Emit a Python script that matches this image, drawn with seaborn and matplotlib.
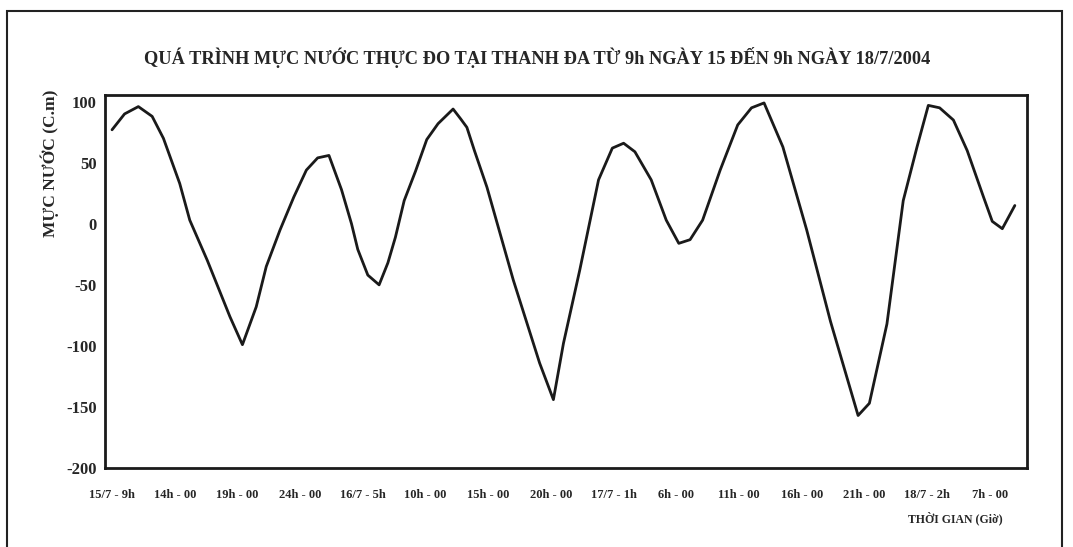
import matplotlib
matplotlib.use("Agg")
import matplotlib.pyplot as plt
import seaborn as sns
import pandas as pd
from matplotlib.patches import Rectangle

# Time in hours since 9h on 15/7/2004, water level in cm
hours = [0, 1.0, 2.1, 3.2, 4.1, 5.4, 6.2, 7.6, 9.4, 10.4, 11.5, 12.3, 13.4, 14.5,
         15.5, 16.4, 17.3, 18.3, 19.1, 19.6, 20.4, 21.3, 22.0, 22.6, 23.3, 24.2,
         25.1, 26.0, 27.2, 27.8, 28.3, 28.9, 29.9, 32.0, 34.1, 35.2, 36.0, 37.3,
         38.8, 39.9, 40.8, 41.7, 43.0, 44.2, 45.2, 46.1, 47.1, 48.5, 49.9, 51.0,
         52.0, 53.5, 55.4, 57.3, 59.5, 60.4, 61.8, 63.1, 64.2, 65.1, 66.0, 67.1,
         68.2, 69.5, 70.2, 71.0, 72.0]
levels = [77, 90, 96, 88, 70, 33, 3, -30, -76, -99, -68, -35, -5, 22,
          44, 54, 56, 28, 0, -21, -42, -50, -32, -11, 19, 43,
          69, 82, 94, 86, 79, 60, 30, -46, -114, -144, -98, -38,
          36, 62, 66, 59, 36, 3, -16, -13, 3, 44, 81, 95,
          99, 63, -5, -80, -157, -147, -82, 19, 63, 97, 95, 85,
          60, 22, 2, -4, 15]

tick_hours = [0, 5, 10, 15, 20, 25, 30, 35, 40, 45, 50, 55, 60, 65, 70]
tick_labels = ["15/7 - 9h", "14h - 00", "19h - 00", "24h - 00", "16/7 - 5h",
               "10h - 00", "15h - 00", "20h - 00", "17/7 - 1h", "6h - 00",
               "11h - 00", "16h - 00", "21h - 00", "18/7 - 2h", "7h - 00"]
y_ticks = [100, 50, 0, -50, -100, -150, -200]

title = "QUÁ TRÌNH MỰC NƯỚC THỰC ĐO TẠI THANH ĐA TỪ 9h NGÀY 15 ĐẾN 9h NGÀY 18/7/2004"
ylabel = "MỰC NƯỚC (C.m)"
xlabel = "THỜI GIAN (Giờ)"

sns.set_style("white")
plt.rcParams['font.family'] = ['Liberation Serif', 'DejaVu Serif']
plt.rcParams['font.weight'] = 'bold'

W, H = 1073, 547
fig = plt.figure(figsize=(W / 100, H / 100), dpi=100)
fig.patch.set_facecolor("white")

# outer frame
fig.add_artist(Rectangle((7 / W, -0.05), (1062 - 7) / W, 1.05 - 11 / H,
                         transform=fig.transFigure, fill=False,
                         edgecolor="#222222", linewidth=1.5))

ax = fig.add_axes([105 / W, 1 - 468 / H, (1027 - 105) / W, (468 - 95) / H])
df = pd.DataFrame({"hour": hours, "level": levels})
sns.lineplot(data=df, x="hour", y="level", ax=ax, color="#1a1a1a",
             linewidth=2.0, sort=False)

ax.set_xlim(-0.56, 72.97)
ax.set_ylim(-200, 105.5)
ax.set_xticks(tick_hours)
ax.set_xticklabels(tick_labels, fontsize=9, fontweight='bold')
ax.set_yticks(y_ticks)
ax.set_yticklabels([str(v) for v in y_ticks], fontsize=12, fontweight='bold')
ax.tick_params(axis='both', length=0)
ax.tick_params(axis='x', pad=15)
ax.tick_params(axis='y', pad=6)
ax.set_xlabel("")
ax.set_ylabel("")
for s in ax.spines.values():
    s.set_visible(True)
    s.set_linewidth(2.0)
    s.set_color("#1a1a1a")

fig.text(537 / W, 1 - 57 / H, title, ha="center", va="center",
         fontsize=13.2, fontweight="bold")
fig.text(50 / W, 1 - 163 / H, ylabel, ha="center", va="center",
         rotation=90, fontsize=12.5, fontweight="bold")
fig.text(955 / W, 1 - 518 / H, xlabel, ha="center", va="center",
         fontsize=8.5, fontweight="bold")

fig.savefig("out.png", dpi=100)
